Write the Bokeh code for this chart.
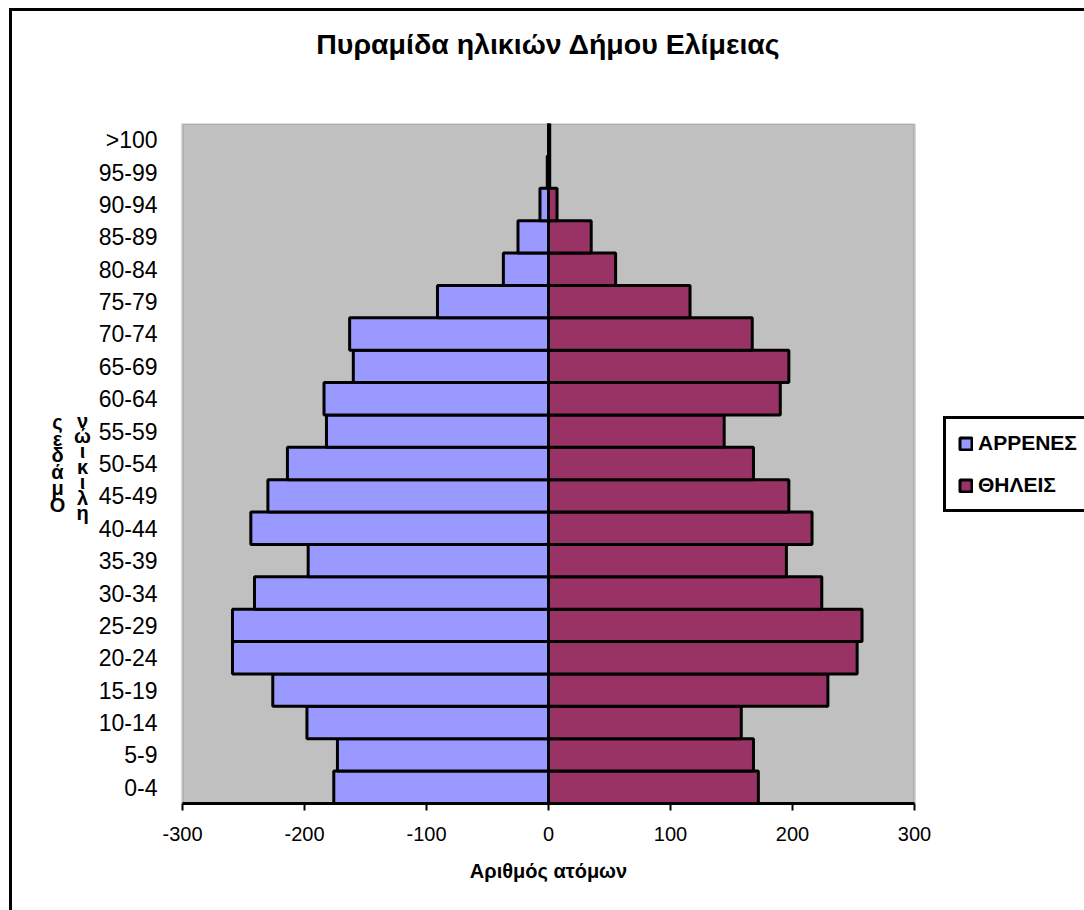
from bokeh.plotting import figure
from bokeh.models import (FactorRange, Range1d, FixedTicker, Span, Legend, LegendItem,
                          LinearAxis, PrintfTickFormatter, BoxAnnotation)
from bokeh.core.properties import value
from bokeh.embed import file_html
from bokeh.resources import INLINE

# ---- data ----
age_groups = ["0-4", "5-9", "10-14", "15-19", "20-24", "25-29", "30-34", "35-39",
              "40-44", "45-49", "50-54", "55-59", "60-64", "65-69", "70-74", "75-79",
              "80-84", "85-89", "90-94", "95-99", ">100"]
males = [-176, -173, -198, -226, -259, -259, -241, -197, -244, -230, -214, -182,
         -184, -160, -163, -91, -37, -25, -7, -1, 0]
females = [172, 168, 158, 229, 253, 257, 224, 195, 216, 197, 168, 144,
           190, 197, 167, 116, 55, 35, 7, 1, 1]
x_ticks = [-300, -200, -100, 0, 100, 200, 300]
title_text = "Πυραμίδα ηλικιών Δήμου Ελίμειας"
x_title = "Αριθμός ατόμων"
y_title_words = ["Ομάδες", "ηλικιών"]
series_names = ["ΑΡΡΕΝΕΣ", "ΘΗΛΕΙΣ"]
male_color = "#9999FF"
female_color = "#993366"

FONT = "Liberation Sans"

# layout (pixels): the frame spans the whole canvas width (1072 px); the grey plot
# area covers -300..300 over 732 px, centred in the canvas.
CANVAS_W = 1072
AREA_W = 732
x_lo, x_hi = x_ticks[0], x_ticks[-1]
px = (x_hi - x_lo) / AREA_W                    # data units per pixel
half = CANVAS_W / 2 * px

p = figure(frame_width=CANVAS_W, frame_height=680, output_backend="svg",
           toolbar_location=None, title_location=None, y_axis_location=None,
           y_range=FactorRange(*age_groups, range_padding=0),
           x_range=Range1d(-half, half),
           min_border_left=0, min_border_right=0, min_border_top=112,
           min_border_bottom=107)
p.styles = {"border-left": "3px solid black", "border-top": "3px solid black",
            "margin-left": "9px", "margin-top": "8px"}

p.background_fill_color = "white"
p.border_fill_color = "white"
p.outline_line_color = None
p.xgrid.visible = False
p.ygrid.visible = False

# grey plot area
p.add_layout(BoxAnnotation(left=x_lo, right=x_hi, fill_color="#C0C0C0", fill_alpha=1.0,
                           line_color="#808080", line_width=3, level="underlay"))

rm = p.hbar(y=age_groups, right=males, left=0, height=1.0,
            fill_color=male_color, line_color="black", line_width=3)
rf = p.hbar(y=age_groups, right=females, left=0, height=1.0,
            fill_color=female_color, line_color="black", line_width=3)

p.add_layout(Span(location=0, dimension="height", line_color="black", line_width=3))

# category labels (left of the plot area)
p.text(x=x_lo - 25 * px, y=age_groups, text=age_groups, text_align="right",
       text_baseline="middle", text_font=value(FONT), text_font_size="23px",
       text_color="black")

# stacked (upright-character) axis title, as in the original
n_cat = len(age_groups)
p.text(x=[x_lo - 125 * px], y=[n_cat / 2], text=["\n".join(reversed(y_title_words[0]))],
       text_align="center", text_baseline="middle", text_font=value(FONT),
       text_font_style="bold", text_font_size="20px", text_line_height=0.75,
       text_color="black")
p.text(x=[x_lo - 100 * px], y=[n_cat / 2 - 0.1],
       text=["\n".join(reversed(y_title_words[1]))],
       text_align="center", text_baseline="middle", text_font=value(FONT),
       text_font_style="bold", text_font_size="20px", text_line_height=0.7,
       text_color="black")

# x axis
xa = p.below[0]
xa.ticker = FixedTicker(ticks=x_ticks)
xa.bounds = (x_lo, x_hi)
xa.formatter = PrintfTickFormatter(format="%d")
xa.minor_tick_line_color = None
xa.major_tick_out = 7
xa.major_tick_in = 0
xa.major_tick_line_color = "black"
xa.major_tick_line_width = 2
xa.axis_line_color = "black"
xa.axis_line_width = 3
xa.major_label_text_font = FONT
xa.major_label_text_font_size = "20px"
xa.major_label_text_color = "black"
xa.major_label_standoff = 16
xa.axis_label = x_title
xa.axis_label_text_font = FONT
xa.axis_label_text_font_style = "bold"
xa.axis_label_text_font_size = "20px"
xa.axis_label_text_color = "black"
xa.axis_label_standoff = 16

# chart title, carried by a tick-less axis above the plot area
title_axis = LinearAxis(ticker=FixedTicker(ticks=[]),
                        axis_label=title_text, axis_label_text_font=FONT,
                        axis_label_text_font_style="bold",
                        axis_label_text_font_size="28.5px",
                        axis_label_text_color="black", axis_label_standoff=64,
                        axis_line_color=None, major_tick_line_color=None,
                        minor_tick_line_color=None, major_tick_out=0, major_tick_in=0,
                        major_label_standoff=0)
p.add_layout(title_axis, "above")

legend = Legend(items=[LegendItem(label=series_names[0], renderers=[rm]),
                       LegendItem(label=series_names[1], renderers=[rf])],
                location=(931, 291), orientation="vertical",
                border_line_color="black", border_line_width=3, border_line_alpha=1.0,
                background_fill_color="white", background_fill_alpha=1.0,
                label_text_font=FONT, label_text_font_style="bold",
                label_text_font_size="21px", label_text_color="black",
                glyph_width=15, glyph_height=15, label_height=21, spacing=18,
                padding=12, margin=0, label_standoff=5)
p.add_layout(legend, "center")

open("out.html", "w").write(file_html(p, INLINE))
